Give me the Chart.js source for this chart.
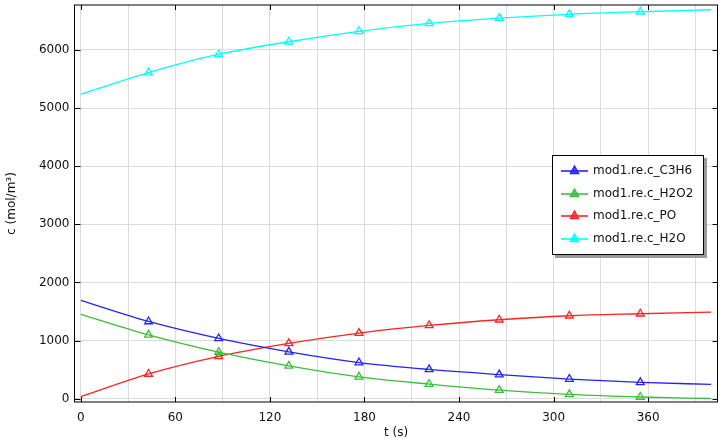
<!DOCTYPE html>
<html>
<head>
<meta charset="utf-8">
<script src="https://cdn.jsdelivr.net/npm/chart.js@4/dist/chart.umd.min.js"></script>
<style>
  html, body { margin: 0; padding: 0; background: #fff; }
  #wrap { position: relative; width: 723px; height: 443px; }
  #legend {
    position: absolute; left: 552px; top: 155px; width: 150px; height: 95px;
    background: #fff; border: 1px solid #000; box-shadow: 3px 3px 0 #9a9a9a;
    font: 12px "DejaVu Sans", sans-serif; color: #111; padding-top: 3px; box-sizing: content-box;
  }
  .row { height: 22.6px; display: flex; align-items: center; padding-left: 8px; }
  .row svg { margin-right: 5px; }
</style>
</head>
<body>
<div id="wrap">
  <canvas id="chart"></canvas>
  <div id="legend"></div>
</div>
<script>
// --- Données ---
const times = [0, 43, 87.5, 132, 176.5, 221, 265.5, 310, 355, 400];
const cC3H6 = [1690, 1328, 1036, 806, 622, 503, 415, 338, 281, 246];
const cH2O2 = [1452, 1098, 800, 563, 375, 252, 148, 74, 29, 3];
const cPO = [34, 425, 727, 951, 1129, 1260, 1358, 1427, 1461, 1490];
const cH2O = [5238, 5610, 5925, 6140, 6320, 6455, 6545, 6612, 6656, 6690];

const seriesNames = ['mod1.re.c_C3H6', 'mod1.re.c_H2O2', 'mod1.re.c_PO', 'mod1.re.c_H2O'];
const seriesColors = ['rgb(35,35,255)', 'rgb(60,190,60)', 'rgb(255,35,35)', 'rgb(0,255,255)'];

const xGrid = [0, 30, 60, 90, 120, 150, 180, 210, 240, 270, 300, 330, 360, 390];
const xTickLabels = [0, 60, 120, 180, 240, 300, 360];
const yTickLabels = [0, 1000, 2000, 3000, 4000, 5000, 6000];

function toPoints(values) {
    return times.map((t, i) => ({ x: t, y: values[i] }));
}

// Cadre noir + graduations intérieures
const framePlugin = {
    id: 'frame',
    beforeDatasetsDraw(chart) {
        const { ctx, chartArea: a, scales } = chart;
        ctx.save();
        ctx.strokeStyle = '#000';
        ctx.lineWidth = 1;
        ctx.strokeRect(a.left, a.top, a.right - a.left, a.bottom - a.top);
        ctx.beginPath();
        xTickLabels.forEach(v => {
            const px = Math.round(scales.x.getPixelForValue(v)) + 0.5;
            ctx.moveTo(px, a.bottom); ctx.lineTo(px, a.bottom - 5);
            ctx.moveTo(px, a.top); ctx.lineTo(px, a.top + 5);
        });
        yTickLabels.forEach(v => {
            const py = Math.round(scales.y.getPixelForValue(v)) + 0.5;
            ctx.moveTo(a.left, py); ctx.lineTo(a.left + 6, py);
            ctx.moveTo(a.right, py); ctx.lineTo(a.right - 5, py);
        });
        ctx.stroke();
        ctx.restore();
    }
};

const series = [cC3H6, cH2O2, cPO, cH2O];
const lastIdx = times.length - 1;

new Chart(document.getElementById('chart'), {
    type: 'line',
    data: {
        datasets: series.map((values, i) => ({
            label: seriesNames[i],
            data: toPoints(values),
            borderColor: seriesColors[i],
            borderWidth: 1.3,
            cubicInterpolationMode: 'monotone',
            pointStyle: 'triangle',
            pointRadius: ctx => (ctx.dataIndex === 0 || ctx.dataIndex === lastIdx) ? 0 : 4.5,
            pointBorderColor: seriesColors[i],
            pointBackgroundColor: 'rgba(255,255,255,0)',
            pointBorderWidth: 1.3
        }))
    },
    options: {
        responsive: true, maintainAspectRatio: false, animation: false,
        layout: { padding: { left: 0, right: 5.5, top: 5, bottom: 0 } },
        plugins: { legend: { display: false }, tooltip: { enabled: false } },
        scales: {
            x: {
                type: 'linear', min: -4, max: 404,
                afterBuildTicks: s => { s.ticks = xGrid.map(v => ({ value: v })); },
                afterFit: s => { s.height = 41; s.paddingLeft = 0; s.paddingRight = 0; },
                grid: { color: '#dcdcdc', lineWidth: 1, drawTicks: false },
                border: { display: false },
                ticks: {
                    padding: 9, color: '#111', maxRotation: 0, autoSkip: false,
                    font: { family: 'DejaVu Sans', size: 12 },
                    callback: v => xTickLabels.includes(v) ? String(v) : ''
                },
                title: {
                    display: true, text: 't (s)', color: '#111',
                    font: { family: 'DejaVu Sans', size: 12 },
                    padding: { top: 0, bottom: 3 }
                }
            },
            y: {
                type: 'linear', min: -57, max: 6772,
                afterBuildTicks: s => { s.ticks = yTickLabels.map(v => ({ value: v })); },
                afterFit: s => { s.width = 74.5; s.paddingTop = 0; s.paddingBottom = 0; },
                grid: { color: '#dcdcdc', lineWidth: 1, drawTicks: false },
                border: { display: false },
                ticks: {
                    padding: 5, color: '#111',
                    font: { family: 'DejaVu Sans', size: 12 },
                    callback: v => String(v)
                },
                title: {
                    display: true, text: 'c (mol/m³)', color: '#111',
                    font: { family: 'DejaVu Sans', size: 12 },
                    padding: { top: 5, bottom: 0 }
                }
            }
        }
    },
    plugins: [framePlugin]
});

// Légende maison : trait + triangle plein
const legend = document.getElementById('legend');
seriesNames.forEach((name, i) => {
    const c = seriesColors[i];
    const row = document.createElement('div');
    row.className = 'row';
    row.innerHTML =
        '<svg width="27" height="12" viewBox="0 0 27 12">' +
        '<line x1="0" y1="7" x2="27" y2="7" stroke="' + c + '" stroke-width="1.6"/>' +
        '<polygon points="13.5,2 17.6,9.5 9.4,9.5" fill="' + c + '" fill-opacity="0.8" stroke="' + c + '" stroke-width="1.4"/>' +
        '</svg><span>' + name + '</span>';
    legend.appendChild(row);
});
</script>
</body>
</html>
